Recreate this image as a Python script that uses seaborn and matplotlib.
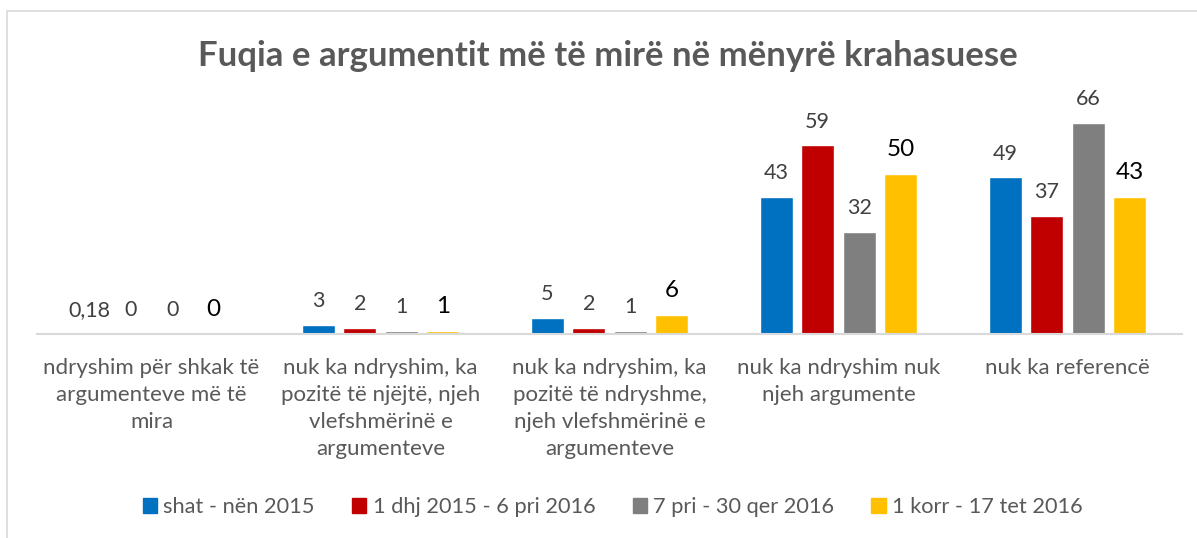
import pandas as pd
import matplotlib.pyplot as plt
import matplotlib.patches as mpatches
import seaborn as sns

# Chart data
categories = [
    "ndryshim për shkak të\nargumenteve më të\nmira",
    "nuk ka ndryshim, ka\npozitë të njëjtë, njeh\nvlefshmërinë e\nargumenteve",
    "nuk ka ndryshim, ka\npozitë të ndryshme,\nnjeh vlefshmërinë e\nargumenteve",
    "nuk ka ndryshim nuk\nnjeh argumente",
    "nuk ka referencë",
]
series = ["shat - nën 2015", "1 dhj 2015 - 6 pri 2016", "7 pri - 30 qer 2016", "1 korr - 17 tet 2016"]
values_s1 = [0.18, 3, 5, 43, 49]
values_s2 = [0, 2, 2, 59, 37]
values_s3 = [0, 1, 1, 32, 66]
values_s4 = [0, 1, 6, 50, 43]
colors = ["#0070C0", "#C00000", "#7F7F7F", "#FFC000"]

# Long format table for seaborn
rows = []
for name, vals in zip(series, [values_s1, values_s2, values_s3, values_s4]):
    for cat, v in zip(categories, vals):
        rows.append({"kategoria": cat, "periudha": name, "vlera": v})
df = pd.DataFrame(rows)

sns.set_style("white")
plt.rcParams['font.family'] = ['Lato', 'DejaVu Sans']

fig = plt.figure(figsize=(11.97, 5.38), dpi=100)
ax = fig.add_axes([0.0309, 0.379, 0.9566, 0.416])

sns.barplot(data=df, x="kategoria", y="vlera", hue="periudha", order=categories,
            hue_order=series, palette=colors, width=0.725, gap=0.2,
            saturation=1, ax=ax, legend=False)

# value labels
for i, cont in enumerate(ax.containers):
    if i == 3:
        labs = [f"{v:g}".replace(".", ",") for v in values_s4]
        ax.bar_label(cont, labels=labs, padding=10, fontsize=17.5, color="black")
    else:
        vals = [values_s1, values_s2, values_s3][i]
        labs = [f"{v:g}".replace(".", ",") for v in vals]
        ax.bar_label(cont, labels=labs, padding=10, fontsize=15.5, color="#404040")

ax.set_ylim(0, 70)
ax.set_xlim(-0.5, 4.5)
ax.set_xlabel("")
ax.set_ylabel("")
ax.set_yticks([])
ax.tick_params(axis="x", length=0, pad=17, labelsize=16, labelcolor="#595959")
for lab in ax.get_xticklabels():
    lab.set_linespacing(1.45)
for side in ["top", "right", "left"]:
    ax.spines[side].set_visible(False)
ax.spines["bottom"].set_color("#D9D9D9")
ax.spines["bottom"].set_linewidth(1.5)

fig.text(0.508, 1 - 56 / 538, "Fuqia e argumentit më të mirë në mënyrë krahasuese",
         ha="center", va="center", fontsize=25, fontweight="bold", color="#595959")

handles = [mpatches.Patch(color=c, label=s) for c, s in zip(colors, series)]
fig.legend(handles=handles, loc="center", bbox_to_anchor=(0.512, 1 - 507 / 538), ncol=4,
           frameon=False, fontsize=15.7, handlelength=0.65, handleheight=0.65,
           handletextpad=0.3, columnspacing=1.7, labelcolor="#595959")

# outer chart frame (clipped on right and bottom)
frame = mpatches.Rectangle((7 / 1197, -0.1), 1.2, 1 - 11 / 538 + 0.1, transform=fig.transFigure,
                           fill=False, edgecolor="#D9D9D9", linewidth=1.2)
fig.patches.append(frame)

fig.savefig("out.png", dpi=100)
